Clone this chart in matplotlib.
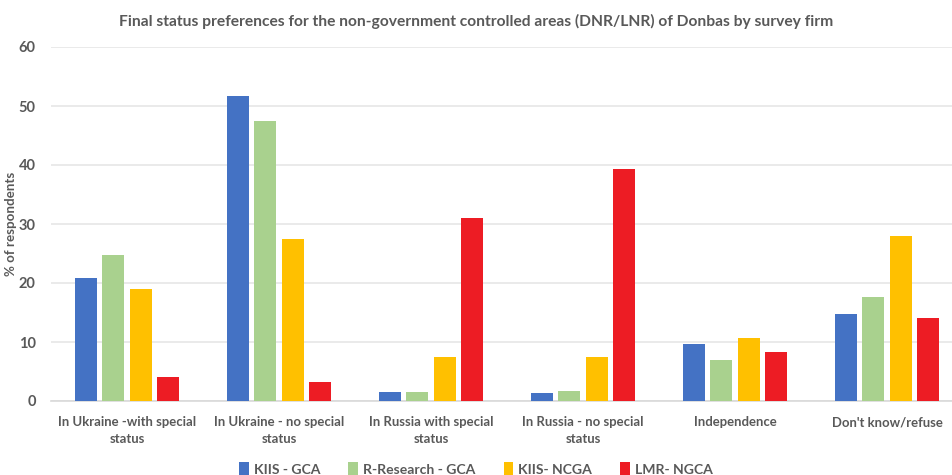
import matplotlib
matplotlib.use("Agg")
import matplotlib.pyplot as plt
import numpy as np

categories = ["In Ukraine -with special\nstatus", "In Ukraine - no special\nstatus",
              "In Russia with special\nstatus", "In Russia - no special\nstatus",
              "Independence", "Don't know/refuse"]
series_names = ["KIIS - GCA", "R-Research - GCA", "KIIS- NCGA", "LMR- NGCA"]
kiis_gca = [20.9, 51.7, 1.5, 1.3, 9.7, 14.7]
rresearch_gca = [24.7, 47.4, 1.5, 1.7, 7.0, 17.6]
kiis_ncga = [19.0, 27.5, 7.4, 7.5, 10.7, 28.0]
lmr_ngca = [4.1, 3.2, 31.0, 39.3, 8.3, 14.1]
yticks = [0, 10, 20, 30, 40, 50, 60]

colors = ["#4472C4", "#A9D18E", "#FFC000", "#ED1C24"]

plt.rcParams["font.family"] = ["Lato", "DejaVu Sans"]
txt = "#595959"

W, H = 952, 475
fig = plt.figure(figsize=(W / 100, H / 100), dpi=100)
ax = fig.add_axes([51 / W, (H - 401) / H, 912 / W, 354 / H])

x = np.arange(len(categories))
data = [kiis_gca, rresearch_gca, kiis_ncga, lmr_ngca]
bw = 0.145
step = 0.18
for i, (vals, c, nm) in enumerate(zip(data, colors, series_names)):
    ax.bar(x + (i - 1.5) * step, vals, width=bw, color=c, label=nm, zorder=3)

ax.set_xlim(-0.5, len(categories) - 0.5)
ax.set_ylim(0, 60)
ax.set_yticks(yticks)
ax.yaxis.grid(True, color="#E6E6E6", linewidth=1.2, zorder=0)
for s in ["top", "right", "left"]:
    ax.spines[s].set_visible(False)
ax.spines["bottom"].set_color("#D9D9D9")
ax.spines["bottom"].set_linewidth(1.2)
ax.tick_params(axis="both", length=0, colors=txt)
ax.tick_params(axis="y", pad=11, labelsize=10.5)
ax.tick_params(axis="x", pad=11)
ax.set_xticks(x)
ax.set_xticklabels(categories, fontsize=10, color=txt, linespacing=1.45, fontweight="bold")
for lab in ax.get_yticklabels():
    lab.set_fontweight("bold")
ylab = ax.set_ylabel("% of respondents", fontsize=10, fontweight="bold", color=txt)
ax.yaxis.set_label_coords(-34 / 912, 0.5)

title = fig.text(0.5, (H - 21) / H,
                 "Final status preferences for the non-government controlled areas (DNR/LNR) of Donbas by survey firm",
                 ha="center", va="center", fontsize=11, fontweight="bold", color=txt)

r = fig.canvas.get_renderer()


def fit(t, target):
    w = t.get_window_extent(r).width
    t.set_fontsize(t.get_fontsize() * target / w)


fit(title, 715)
first = ax.get_xticklabels()[0]
w0 = first.get_window_extent(r).width
fs = first.get_fontsize() * 138 / w0
for lab in ax.get_xticklabels():
    lab.set_fontsize(fs)
ylab_w = ylab.get_window_extent(r).height
ylab.set_fontsize(ylab.get_fontsize() * 104 / ylab_w)

kw = dict(loc="center", bbox_to_anchor=(0.5, (H - 469) / H), ncol=4, frameon=False,
          handlelength=0.7, handleheight=1.0, handletextpad=0.35,
          columnspacing=2.0, labelcolor=txt)
leg = fig.legend(prop={"weight": "bold", "size": 12}, **kw)
lw = leg.get_window_extent(r).width
leg.remove()
sz = 12 * 485 / lw
leg = fig.legend(prop={"weight": "bold", "size": sz}, **kw)

fig.savefig("out.png", dpi=100)
